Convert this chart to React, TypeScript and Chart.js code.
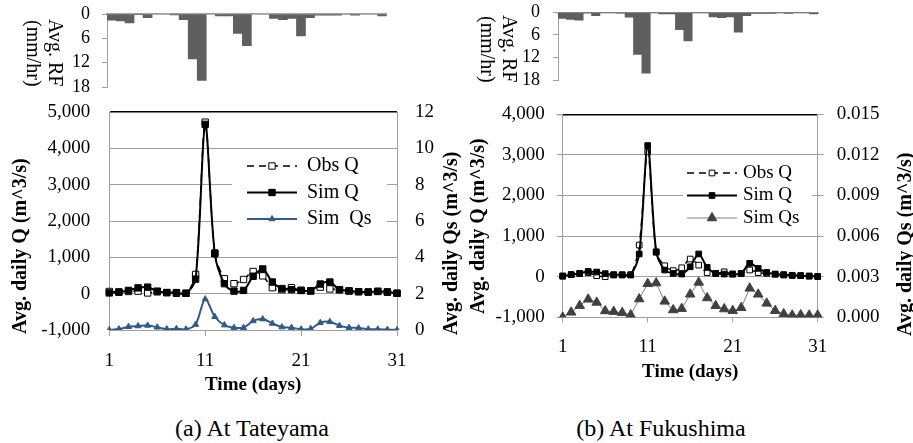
import React, { useEffect, useRef } from 'react';
import { Chart, registerables } from 'chart.js';
import { drawPoint } from 'chart.js/helpers';

Chart.register(...registerables);

const FONT = "'Liberation Serif', 'Times New Roman', serif";
const GREY = '#a0a0a0';

// ---------- data ----------
const days = ['1','2','3','4','5','6','7','8','9','10','11','12','13','14','15','16','17','18','19','20','21','22','23','24','25','26','27','28','29','30','31'];

// Tateyama
const tateRain = [1.5, 1.7, 2.2, 0.1, 0.9, 0, 0, 0.2, 1.4, 11.1, 16.4, 0, 0.5, 0.5, 4.8, 7.8, 0, 0, 1.1, 1.4, 1.1, 5.4, 0.9, 0.3, 0.3, 0.3, 0, 0.3, 0, 0, 0.5];
const tateObsQ = [60, 50, 60, 70, 20, 50, 30, 10, 10, 530, 4720, 1120, 410, 275, 390, 610, 490, 165, 110, 165, 90, 75, 180, 130, 110, 75, 55, 45, 60, 45, 10];
const tateSimQ = [20, 40, 90, 160, 180, 70, 30, 30, 10, 400, 4660, 1100, 275, 70, 90, 480, 680, 320, 140, 110, 90, 75, 265, 320, 110, 75, 55, 45, 65, 45, 10];
const tateSimQs = [0, 0.05, 0.18, 0.22, 0.25, 0.15, 0.05, 0.07, 0.04, 0.3, 1.7, 0.73, 0.27, 0.13, 0.13, 0.5, 0.6, 0.36, 0.16, 0.13, 0.04, 0.07, 0.4, 0.45, 0.24, 0.13, 0.11, 0.04, 0.04, 0.02, 0];

// Fukushima
const fukuRain = [1.6, 1.9, 2.1, 0.1, 0.9, 0, 0, 0.2, 1.3, 11.2, 16.2, 0, 0.4, 0.4, 4.6, 7.6, 0, 0, 1.2, 1.4, 1.2, 5.3, 0.9, 0.3, 0.3, 0.3, 0, 0.3, 0, 0, 0.4];
const fukuObsQ = [20, 50, 80, 100, 25, 0, 40, 40, 40, 780, 3075, 600, 270, 150, 220, 435, 285, 100, 80, 120, 65, 80, 165, 100, 80, 60, 40, 30, 25, 15, 5];
const fukuSimQ = [10, 50, 80, 130, 115, 75, 50, 50, 50, 560, 3230, 615, 165, 80, 65, 245, 560, 230, 80, 65, 65, 80, 330, 205, 105, 65, 50, 35, 25, 15, 5];
const fukuSimQs = [0, 0.00037, 0.00086, 0.00133, 0.0011, 0.00047, 0.00042, 0.00034, 0.00017, 0.00135, 0.00248, 0.00253, 0.00118, 0.00054, 0.00064, 0.0017, 0.00258, 0.00143, 0.00085, 0.00061, 0.00049, 0.00071, 0.00214, 0.0017, 0.00103, 0.00049, 0.00025, 0.00015, 0.00017, 0.00015, 0.00015];

// axis ticks
const qStep = 1000;
const rainStep = 6;

// ---------- plugins ----------
const insideLegend = {
  id: 'insideLegend',
  afterDraw(chart: any, _args: any, o: any) {
    if (!o || !o.show) return;
    const { ctx, chartArea } = chart;
    const bx = chartArea.left + o.x;
    const by = chartArea.top + o.y;
    ctx.save();
    ctx.fillStyle = '#fff';
    ctx.fillRect(bx, by, o.w, o.h);
    chart.data.datasets.forEach((ds: any, i: number) => {
      const cy = by + o.firstRow + i * o.rowGap;
      const lx = bx + o.lineX;
      ctx.setLineDash(ds.borderDash || []);
      ctx.strokeStyle = ds.borderColor;
      ctx.lineWidth = ds.borderWidth;
      ctx.beginPath();
      ctx.moveTo(lx, cy);
      ctx.lineTo(lx + o.lineLen, cy);
      ctx.stroke();
      ctx.setLineDash([]);
      ctx.fillStyle = ds.pointBackgroundColor;
      ctx.strokeStyle = ds.pointBorderColor;
      ctx.lineWidth = ds.pointBorderWidth;
      drawPoint(ctx, { pointStyle: ds.pointStyle, radius: ds.pointRadius, rotation: 0, borderWidth: ds.pointBorderWidth } as any, lx + o.lineLen / 2, cy);
      ctx.fillStyle = '#000';
      ctx.font = `${o.fontSize}px ${FONT}`;
      ctx.textBaseline = 'middle';
      ctx.textAlign = 'left';
      ctx.fillText(ds.label, bx + o.textX, cy);
    });
    ctx.restore();
  },
};

// fix box sizes and stop label overflow from moving the plot area
const fixV = (w: number) => (sc: any) => { sc.width = w; sc.paddingTop = 0; sc.paddingBottom = 0; sc.paddingLeft = 0; sc.paddingRight = 0; };
const fixH = (h: number) => (sc: any) => { sc.height = h; sc.paddingTop = 0; sc.paddingBottom = 0; sc.paddingLeft = 0; sc.paddingRight = 0; };

// ---------- chart builders ----------
function makeRain(canvas: HTMLCanvasElement, s: any) {
  return new Chart(canvas, {
    type: 'bar',
    data: {
      labels: days,
      datasets: [{ label: 'Avg. RF', data: s.rain, backgroundColor: '#5f5f5f', borderWidth: 0, barPercentage: 1, categoryPercentage: 1 }],
    },
    options: {
      responsive: false,
      animation: false,
      layout: { autoPadding: false, padding: { top: s.padTop, bottom: s.padBottom, left: 0, right: s.padRight } },
      plugins: { legend: { display: false }, tooltip: { enabled: false } },
      scales: {
        x: {
          position: 'top', offset: true,
          ticks: { display: false }, grid: { display: false },
          border: { display: true, color: GREY, width: 1.5 },
          afterFit: fixH(0),
        },
        y: {
          reverse: true, min: 0, max: 18,
          ticks: { stepSize: rainStep, autoSkip: false, padding: s.tickPad, font: { family: FONT, size: 18 }, color: '#000' },
          grid: { drawOnChartArea: false, drawTicks: true, tickLength: 5, color: GREY },
          border: { display: true, color: GREY, width: 1 },
          afterFit: fixV(s.leftW),
        },
      },
    } as any,
  });
}

function makeHydro(canvas: HTMLCanvasElement, s: any) {
  return new Chart(canvas, {
    type: 'line',
    data: {
      labels: days,
      datasets: [
        {
          label: 'Obs Q', data: s.obs, yAxisID: 'y', order: 2,
          borderColor: '#000', borderWidth: 1.5, borderDash: [7, 5], tension: 0.3,
          pointStyle: 'rect', pointRadius: s.sqR, pointBackgroundColor: '#fff', pointBorderColor: '#000', pointBorderWidth: 1,
        },
        {
          label: 'Sim Q', data: s.sim, yAxisID: 'y', order: 1,
          borderColor: '#000', borderWidth: 2, tension: 0.3,
          pointStyle: 'rect', pointRadius: s.sqR, pointBackgroundColor: '#000', pointBorderColor: '#000', pointBorderWidth: 1,
        },
        {
          label: s.qsLabel, data: s.qs, yAxisID: 'y1', order: 0,
          borderColor: s.qsLine, borderWidth: s.qsWidth, tension: s.qsTension,
          pointStyle: 'triangle', pointRadius: s.triR, pointBackgroundColor: s.qsFill, pointBorderColor: s.qsFill, pointBorderWidth: 1,
        },
      ],
    },
    options: {
      responsive: false,
      animation: false,
      layout: { autoPadding: false, padding: { top: s.padTop, bottom: s.padBottom, left: 0, right: 0 } },
      plugins: { legend: { display: false }, tooltip: { enabled: false }, insideLegend: s.legend },
      scales: {
        x: {
          type: 'category', offset: false,
          grid: {
            display: true, drawOnChartArea: false, drawTicks: true, tickLength: s.xTickLen, lineWidth: 1,
            color: (c: any) => (c.index % 10 === 0 ? GREY : 'rgba(0,0,0,0)'),
          },
          border: { display: true, color: GREY, width: 1 },
          ticks: {
            autoSkip: false, maxRotation: 0, minRotation: 0, padding: s.xPad,
            font: { family: FONT, size: 19 }, color: '#000',
            callback: (_v: any, i: number) => (i % 10 === 0 ? days[i] : ''),
          },
          title: { display: true, text: 'Time (days)', font: { family: FONT, size: 19, weight: 'bold' }, color: '#000', padding: 0 },
          afterFit: fixH(66),
        },
        y: {
          position: 'left', min: s.qMin, max: s.qMax,
          ticks: {
            stepSize: qStep, autoSkip: false, padding: s.yPadL, font: { family: FONT, size: 19 }, color: '#000',
            callback: (v: any) => Number(v).toLocaleString('en-US'),
          },
          grid: {
            color: (c: any) => (c.tick && c.tick.value === s.qMax ? '#000' : GREY),
            lineWidth: (c: any) => (c.tick && c.tick.value === s.qMax ? 1.4 : 1),
            tickColor: GREY, drawTicks: s.yTicks, tickLength: 6,
          },
          border: { display: true, color: GREY, width: 1 },
          afterFit: fixV(s.leftW),
        },
        y1: {
          position: 'right', min: s.qsMin, max: s.qsMax,
          ticks: {
            count: s.qsCount, autoSkip: false, padding: s.yPadR, font: { family: FONT, size: 19 }, color: '#000',
            callback: (v: any) => Number(v).toFixed(s.qsDec),
          },
          grid: { drawOnChartArea: false, drawTicks: s.yTicks, tickLength: 6, color: GREY },
          border: { display: true, color: GREY, width: 1 },
          afterFit: fixV(s.rightW),
        },
      },
    } as any,
    plugins: [insideLegend],
  });
}

// ---------- text helpers ----------
function VTitle(p: { text: string; cx: number; cy: number; len: number; size: number; bold?: boolean }) {
  return (
    <div
      style={{
        position: 'absolute', left: p.cx - p.size / 2, top: p.cy - p.len / 2, width: p.size, height: p.len,
        writingMode: 'vertical-rl', transform: 'rotate(180deg)', textAlign: 'center',
        fontFamily: FONT, fontSize: p.size, fontWeight: p.bold ? 'bold' : 'normal', lineHeight: `${p.size}px`,
        whiteSpace: 'nowrap', color: '#000',
      }}
    >
      {p.text}
    </div>
  );
}

function RainTitle(p: { left: number; top: number }) {
  return (
    <div
      style={{
        position: 'absolute', left: p.left, top: p.top, width: 44, height: 78,
        writingMode: 'vertical-rl', textAlign: 'center', fontFamily: FONT, fontSize: 20, lineHeight: '22px',
        whiteSpace: 'nowrap', color: '#000',
      }}
    >
      Avg. RF<br />(mm/hr)
    </div>
  );
}

function Caption(p: { text: string; cx: number; top: number }) {
  return (
    <div
      style={{
        position: 'absolute', left: p.cx, top: p.top, transform: 'translateX(-50%)',
        fontFamily: FONT, fontSize: 24, lineHeight: '28px', whiteSpace: 'nowrap', color: '#000',
      }}
    >
      {p.text}
    </div>
  );
}

export default function App() {
  const rainA = useRef<HTMLCanvasElement>(null);
  const hydA = useRef<HTMLCanvasElement>(null);
  const rainB = useRef<HTMLCanvasElement>(null);
  const hydB = useRef<HTMLCanvasElement>(null);

  useEffect(() => {
    Chart.defaults.color = '#000';
    Chart.defaults.font.family = FONT;
    const charts: any[] = [];
    charts.push(makeRain(rainA.current!, { rain: tateRain, padTop: 14, padBottom: 13, padRight: 73.3, leftW: 107, tickPad: 12 }));
    charts.push(makeRain(rainB.current!, { rain: fukuRain, padTop: 12.3, padBottom: 20, padRight: 95, leftW: 103, tickPad: 13 }));
    charts.push(makeHydro(hydA.current!, {
      obs: tateObsQ, sim: tateSimQ, qs: tateSimQs, qsLabel: 'Sim  Qs',
      qsLine: '#2e5b8c', qsFill: '#2e5b8c', qsWidth: 2, qsTension: 0.3, sqR: 4.5, triR: 3.5,
      qMin: -1000, qMax: 5000, qsMin: 0, qsMax: 12, qsCount: 7, qsDec: 0,
      padTop: 17, padBottom: 9, leftW: 109.3, rightW: 63,
      yTicks: false, yPadL: 19, yPadR: 18, xTickLen: 6, xPad: 13.6,
      legend: { show: true, x: 122.7, y: 40, w: 155, h: 80, firstRow: 14, rowGap: 26.5, lineX: 15, lineLen: 50, textX: 75, fontSize: 20 },
    }));
    charts.push(makeHydro(hydB.current!, {
      obs: fukuObsQ, sim: fukuSimQ, qs: fukuSimQs, qsLabel: 'Sim Qs',
      qsLine: '#808080', qsFill: '#404040', qsWidth: 1, qsTension: 0, sqR: 4, triR: 5.5,
      qMin: -1000, qMax: 4000, qsMin: 0, qsMax: 0.015, qsCount: 6, qsDec: 3,
      padTop: 19.3, padBottom: 21.7, leftW: 107.7, rightW: 95.3,
      yTicks: true, yPadL: 12, yPadR: 13, xTickLen: 5, xPad: 13.8,
      legend: { show: true, x: 120.3, y: 45.7, w: 129, h: 72, firstRow: 13, rowGap: 22.5, lineX: 4, lineLen: 50, textX: 60, fontSize: 19 },
    }));
    return () => { charts.forEach((c) => c.destroy()); };
  }, []);

  return (
    <div style={{ position: 'absolute', left: 0, top: 0, width: 913, height: 443, background: '#fff', overflow: 'hidden' }}>
      <canvas ref={rainA} width={460} height={100} style={{ position: 'absolute', left: 0, top: 0 }} />
      <canvas ref={rainB} width={458} height={100} style={{ position: 'absolute', left: 455, top: 0 }} />
      <canvas ref={hydA} width={460} height={310} style={{ position: 'absolute', left: 0, top: 95 }} />
      <canvas ref={hydB} width={458} height={310} style={{ position: 'absolute', left: 455, top: 95 }} />

      <RainTitle left={22.5} top={14} />
      <RainTitle left={477} top={10} />

      <VTitle text="Avg. daily Q (m^3/s)" cx={18.5} cy={246} len={240} size={20} bold />
      <VTitle text="Avg. daily Qs (m^3/s)" cx={450} cy={243} len={240} size={20} bold />
      <VTitle text="Avg. daily Q (m^3/s)" cx={477} cy={226} len={240} size={20} bold />
      <VTitle text="Avg. daily Qs (m^3/s)" cx={904} cy={244} len={240} size={20} bold />

      <Caption text="(a) At Tateyama" cx={252} top={414} />
      <Caption text="(b) At Fukushima" cx={661} top={414} />
    </div>
  );
}
